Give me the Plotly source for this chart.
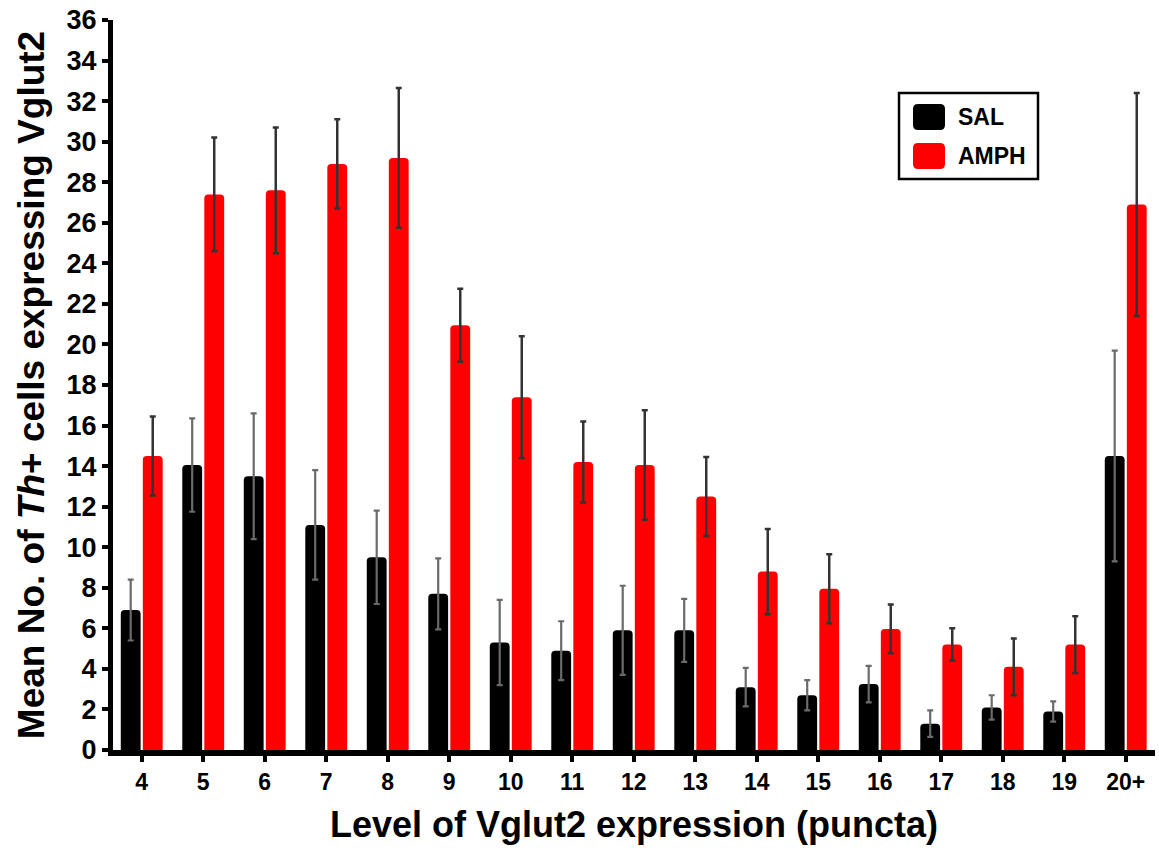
import plotly.graph_objects as go

categories = ["4", "5", "6", "7", "8", "9", "10", "11", "12", "13", "14", "15", "16", "17", "18", "19", "20+"]
sal_mean = [6.9, 14.05, 13.5, 11.1, 9.5, 7.7, 5.3, 4.9, 5.9, 5.9, 3.1, 2.7, 3.25, 1.3, 2.1, 1.9, 14.5]
sal_sem = [1.5, 2.3, 3.1, 2.7, 2.3, 1.75, 2.1, 1.45, 2.2, 1.55, 0.95, 0.75, 0.9, 0.65, 0.6, 0.5, 5.2]
amph_mean = [14.5, 27.4, 27.6, 28.9, 29.2, 20.95, 17.4, 14.2, 14.05, 12.5, 8.8, 7.95, 5.97, 5.2, 4.1, 5.2, 26.9]
amph_sem = [1.95, 2.8, 3.1, 2.2, 3.45, 1.8, 3.0, 2.0, 2.7, 1.95, 2.1, 1.7, 1.2, 0.8, 1.4, 1.4, 5.5]
y_ticks = list(range(0, 37, 2))
series_names = ["SAL", "AMPH"]
series_colors = ["#000000", "#ff0000"]

BOLD = "Liberation Sans, Arial, sans-serif"

W, H = 1159, 857
ml, mr, mt, mb = 113, 4, 20, 107
pw, ph = W - ml - mr, H - mt - mb


def px(x):
    return (x - ml) / pw


def py(y):
    return 1 - (y - mt) / ph


fig = go.Figure()
fig.add_trace(go.Bar(
    name=series_names[0], x=categories, y=sal_mean, showlegend=False,
    marker=dict(color=series_colors[0], line=dict(width=0)),
    error_y=dict(type="data", array=sal_sem, visible=True, color="#6a6a6a", thickness=2.2, width=3),
))
fig.add_trace(go.Bar(
    name=series_names[1], x=categories, y=amph_mean, showlegend=False,
    marker=dict(color=series_colors[1], line=dict(width=0)),
    error_y=dict(type="data", array=amph_sem, visible=True, color="#333333", thickness=2.5, width=3),
))

# legend box (drawn as shapes + text to match the large rounded swatches)
shapes = [dict(type="rect", xref="paper", yref="paper",
               x0=px(899), x1=px(1038), y0=py(179), y1=py(93),
               line=dict(color="black", width=2.5), fillcolor="white", layer="above")]
annotations = []
swatch_rows = [(104, 130), (143, 169)]
for (top, bot), name, col in zip(swatch_rows, series_names, series_colors):
    x0, x1, r = 913, 945, 5
    path = (f"M {px(x0 + r)} {py(top)} L {px(x1 - r)} {py(top)} "
            f"Q {px(x1)} {py(top)} {px(x1)} {py(top + r)} L {px(x1)} {py(bot - r)} "
            f"Q {px(x1)} {py(bot)} {px(x1 - r)} {py(bot)} L {px(x0 + r)} {py(bot)} "
            f"Q {px(x0)} {py(bot)} {px(x0)} {py(bot - r)} L {px(x0)} {py(top + r)} "
            f"Q {px(x0)} {py(top)} {px(x0 + r)} {py(top)} Z")
    shapes.append(dict(type="path", xref="paper", yref="paper", path=path,
                       fillcolor=col, line=dict(width=0), layer="above"))
    annotations.append(dict(xref="paper", yref="paper", x=px(956), y=py((top + bot) / 2),
                            xanchor="left", yanchor="middle", showarrow=False, text=name,
                            font=dict(family=BOLD, size=23, color="black", weight="bold")))

fig.update_layout(
    width=W, height=H,
    margin=dict(l=ml, r=mr, t=mt, b=mb, pad=0),
    paper_bgcolor="white", plot_bgcolor="white",
    barmode="group", bargap=0.283, bargroupgap=0.1,
    barcornerradius=4,
    showlegend=False,
    shapes=shapes, annotations=annotations,
    xaxis=dict(
        type="category", range=[-0.467, 16.476],
        showline=True, linecolor="black", linewidth=6,
        ticks="outside", ticklen=6, tickwidth=4, tickcolor="black",
        tickfont=dict(family=BOLD, size=23, color="black", weight="bold"),
        showgrid=False, zeroline=False,
        title=dict(text="Level of Vglut2 expression (puncta)",
                   font=dict(family=BOLD, size=36, color="black", weight="bold"),
                   standoff=20),
    ),
    yaxis=dict(
        range=[0, 36], tickvals=y_ticks,
        showline=True, linecolor="black", linewidth=5,
        ticks="outside", ticklen=6, tickwidth=4, tickcolor="black",
        tickfont=dict(family=BOLD, size=27, color="black", weight="bold"),
        showgrid=False, zeroline=False,
        title=dict(text="Mean No. of <i>Th</i>+ cells expressing Vglut2",
                   font=dict(family=BOLD, size=37, color="black", weight="bold"),
                   standoff=12),
    ),
)

fig.write_html("out.html")
